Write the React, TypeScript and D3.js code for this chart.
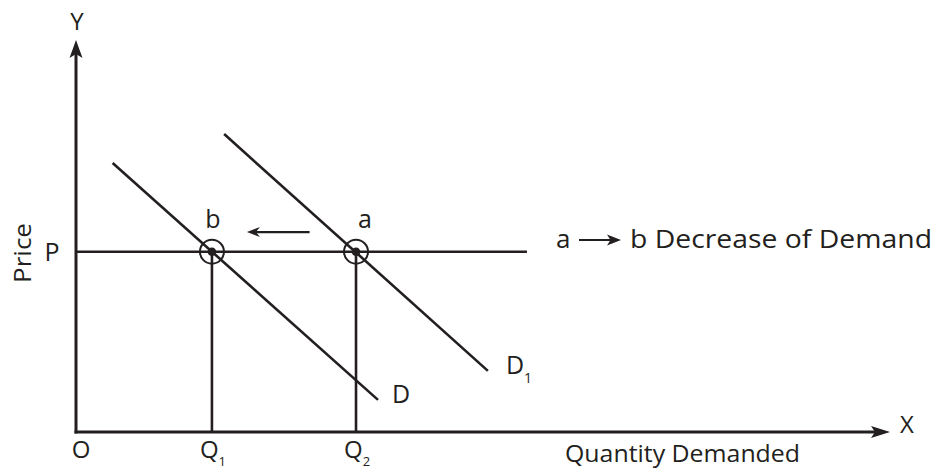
import React from "react";
import * as d3 from "d3";

const W = 936;
const H = 470;

// data-space values (x: quantity 0..100, y: price 0..100)
const priceP = 46;
const priceLineEnd = 55.4;
const quantities = [
  { name: "Q", sub: "1", value: 16.7 },
  { name: "Q", sub: "2", value: 34.4 },
];
const curveD = [
  [4.5, 68.6],
  [37.1, 8.2],
];
const curveD1 = [
  [18.2, 76.0],
  [50.6, 15.6],
];
const shiftArrow = { from: 28.7, to: 21.0, y: 51.0 };
const pointLabels = ["b", "a"];

const INK = "#231f20";
const FONT = "'Open Sans', 'DejaVu Sans', sans-serif";

function arrowHead(tipX: number, tipY: number, angle: number, len: number, half: number, notch: number) {
  const c = Math.cos(angle);
  const s = Math.sin(angle);
  const pt = (along: number, perp: number) => [tipX - along * c - perp * s, tipY - along * s + perp * c];
  const a = pt(0, 0);
  const b = pt(len, half);
  const n = pt(len - notch, 0);
  const d = pt(len, -half);
  return `M${a[0]},${a[1]}L${b[0]},${b[1]}L${n[0]},${n[1]}L${d[0]},${d[1]}Z`;
}

export default function App() {
  const x = d3.scaleLinear().domain([0, 100]).range([76, 890]);
  const y = d3.scaleLinear().domain([0, 100]).range([432, 40]);
  const line = d3
    .line<number[]>()
    .x((d) => x(d[0]))
    .y((d) => y(d[1]));

  const x0 = x(0);
  const y0 = y(0);
  const yP = y(priceP);

  return (
    <svg width={W} height={H} style={{ position: "absolute", left: 0, top: 0, background: "#fff" }}>
      <g fill="none" stroke={INK} strokeLinecap="butt">
        {/* axes */}
        <line x1={x0} y1={y0 + 1.5} x2={x0} y2={y(100) + 12} strokeWidth={3} />
        <line x1={x0 - 1.5} y1={y0} x2={x(100) - 12} y2={y0} strokeWidth={3} />
        {/* price line */}
        <line x1={x0} y1={yP} x2={x(priceLineEnd)} y2={yP} strokeWidth={2.6} />
        {/* quantity drops */}
        {quantities.map((q, i) => (
          <line key={i} x1={x(q.value)} y1={yP} x2={x(q.value)} y2={y0} strokeWidth={2.6} />
        ))}
        {/* demand curves */}
        <path d={line(curveD) || ""} strokeWidth={2.6} />
        <path d={line(curveD1) || ""} strokeWidth={2.6} />
        {/* shift arrow */}
        <line x1={x(shiftArrow.from)} y1={y(shiftArrow.y)} x2={x(shiftArrow.to) + 8} y2={y(shiftArrow.y)} strokeWidth={2.2} />
        {/* legend arrow */}
        <line x1={579} y1={240} x2={612} y2={240} strokeWidth={2.2} />
      </g>
      <g fill={INK}>
        <path d={arrowHead(x0, y(100), -Math.PI / 2, 18, 6.5, 4)} />
        <path d={arrowHead(x(100), y0, 0, 19, 6, 4)} />
        <path d={arrowHead(x(shiftArrow.to), y(shiftArrow.y), Math.PI, 13, 5, 4)} />
        <path d={arrowHead(621, 240, 0, 14, 5.5, 3.5)} />
      </g>
      {/* equilibrium markers */}
      {quantities.map((q, i) => (
        <g key={i}>
          <circle cx={x(q.value)} cy={yP} r={12} fill="none" stroke={INK} strokeWidth={2} />
          <circle cx={x(q.value)} cy={yP} r={4.3} fill={INK} />
        </g>
      ))}
      <g fill={INK} fontFamily={FONT}>
        <text x={x0 + 1} y={30} fontSize={24} textAnchor="middle">Y</text>
        <text x={907} y={433} fontSize={24} textAnchor="middle">X</text>
        <text x={x0 + 5} y={458} fontSize={24} textAnchor="middle">O</text>
        <text x={52} y={261} fontSize={25} textAnchor="middle">P</text>
        <text transform="translate(31,253) rotate(-90)" fontSize={24} textAnchor="middle" textLength={60} lengthAdjust="spacingAndGlyphs">Price</text>
        {quantities.map((q, i) => (
          <text key={i} x={x(q.value) - 12} y={458} fontSize={24}>
            {q.name}
            <tspan fontSize={13} dy={8}>{q.sub}</tspan>
          </text>
        ))}
        {quantities.map((q, i) => (
          <text key={"l" + i} x={x(q.value) + (i === 0 ? 1 : 9)} y={228} fontSize={25} textAnchor="middle">
            {pointLabels[i]}
          </text>
        ))}
        <text x={x(curveD[1][0]) + 14} y={403} fontSize={25}>D</text>
        <text x={x(curveD1[1][0]) + 18} y={374} fontSize={25}>
          D<tspan fontSize={14} dy={9}>1</tspan>
        </text>
        <text x={556} y={248} fontSize={26}>a</text>
        <text x={630} y={248} fontSize={26} textLength={302} lengthAdjust="spacingAndGlyphs">b Decrease of Demand</text>
        <text x={565} y={462} fontSize={23} textLength={235} lengthAdjust="spacingAndGlyphs">Quantity Demanded</text>
      </g>
    </svg>
  );
}
